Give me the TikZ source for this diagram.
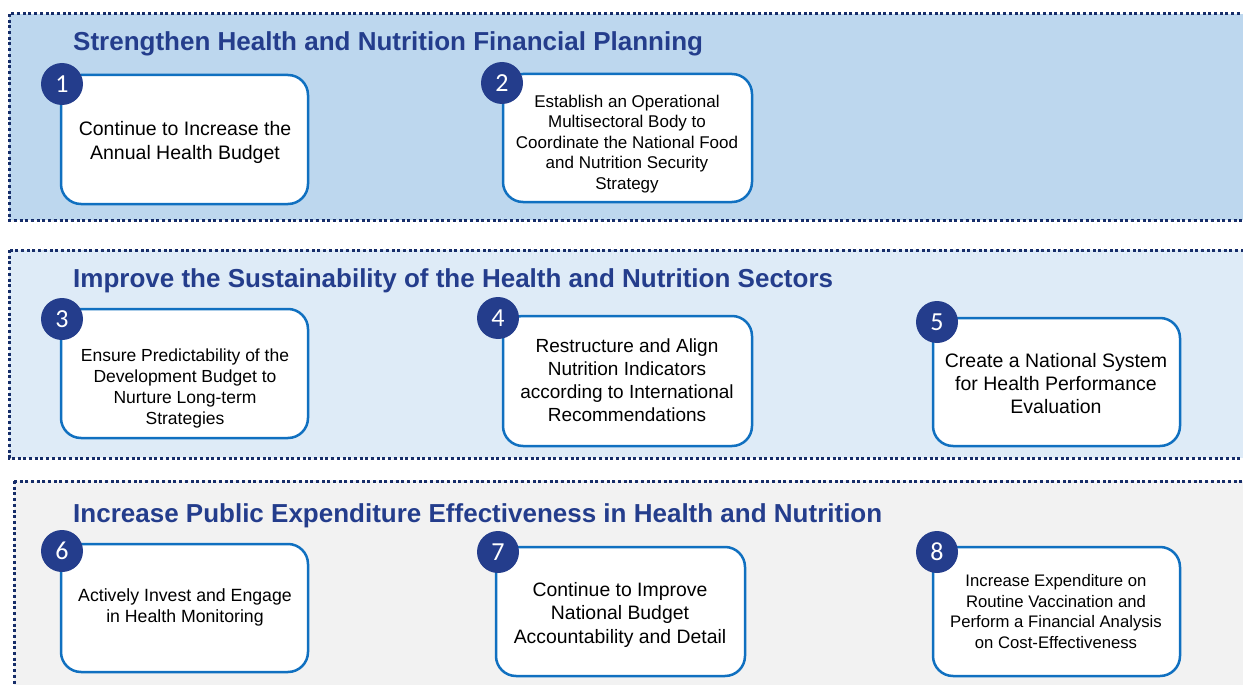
\documentclass[tikz,border=0pt]{standalone}
\usepackage{fontspec}
\setmainfont{Liberation Sans}
\newfontfamily\numfont{Carlito}
\definecolor{bandA}{RGB}{189,215,238}
\definecolor{bandB}{RGB}{222,235,247}
\definecolor{bandC}{RGB}{242,242,242}
\definecolor{edgecol}{RGB}{22,45,105}
\definecolor{navy}{RGB}{36,61,140}
\definecolor{boxblue}{RGB}{16,112,192}
\begin{document}
\begin{tikzpicture}[x=1pt,y=-1pt,
 band/.style={line width=3pt, draw=edgecol, dash pattern=on 3pt off 2.7pt},
 card/.style={draw=boxblue, line width=2.5pt, fill=white, rounded corners=20pt, inner sep=0pt},
 num/.style={circle, fill=navy, text=white, minimum size=42pt, inner sep=0pt, font=\numfont\fontsize{26}{26}\selectfont},
 titletext/.style={anchor=base west, text=navy, font=\bfseries\fontsize{26}{30}\selectfont, inner sep=0pt},
 txt/.style={align=center, inner sep=0pt, text=black}
]
\clip (0,0) rectangle (1243,685);
\fill[white] (0,0) rectangle (1243,685);
% bands
\draw[band, fill=bandA] (9,14) rectangle (1262,220);
\draw[band, fill=bandB] (9,250) rectangle (1262,458);
\draw[band, fill=bandC] (14,481) rectangle (1262,705);
% titles
\node[titletext] (t1) at (73,51) {Strengthen Health and Nutrition Financial Planning};
\node[titletext] (t2) at (73,287) {Improve the Sustainability of the Health and Nutrition Sectors};
\node[titletext] (t3) at (73,522) {Increase Public Expenditure Effectiveness in Health and Nutrition};
% cards
\node[card, minimum width=247pt, minimum height=129pt] (b1) at (184.5,139.5) {};
\node[card, minimum width=249pt, minimum height=128pt] (b2) at (627.5,138) {};
\node[card, minimum width=247pt, minimum height=129pt] (b3) at (184.5,373.5) {};
\node[card, minimum width=249pt, minimum height=130pt] (b4) at (627.5,381) {};
\node[card, minimum width=247pt, minimum height=128pt] (b5) at (1056.5,382) {};
\node[card, minimum width=247pt, minimum height=128pt] (b6) at (184.5,608) {};
\node[card, minimum width=249pt, minimum height=129pt] (b7) at (620.5,611.5) {};
\node[card, minimum width=247pt, minimum height=129pt] (b8) at (1056.5,611.5) {};
% texts
\node[txt, font=\fontsize{19.5}{24}\selectfont] (x1) at (185,142) {Continue to Increase the\\Annual Health Budget};
\node[txt, font=\fontsize{17}{20.5}\selectfont] (x2) at (627,144) {Establish an Operational\\Multisectoral Body to\\Coordinate the National Food\\and Nutrition Security\\Strategy};
\node[txt, font=\fontsize{17.5}{21}\selectfont] (x3) at (185,388) {Ensure Predictability of the\\Development Budget to\\Nurture Long-term\\Strategies};
\node[txt, font=\fontsize{19}{23}\selectfont] (x4) at (627,380.5) {Restructure and Align\\Nutrition Indicators\\according to International\\Recommendations};
\node[txt, font=\fontsize{19.5}{23}\selectfont] (x5) at (1056,384) {Create a National System\\for Health Performance\\Evaluation};
\node[txt, font=\fontsize{17.7}{21}\selectfont] (x6) at (185,607.5) {Actively Invest and Engage\\in Health Monitoring};
\node[txt, font=\fontsize{19.4}{23.5}\selectfont] (x7) at (620,614.5) {Continue to Improve\\National Budget\\Accountability and Detail};
\node[txt, font=\fontsize{16.7}{20.5}\selectfont] (x8) at (1056,611.5) {Increase Expenditure on\\Routine Vaccination and\\Perform a Financial Analysis\\on Cost-Effectiveness};
% number badges
\node[num] (n1) at (62,84) {1};
\node[num] (n2) at (502,83) {2};
\node[num] (n3) at (62,319) {3};
\node[num] (n4) at (498,318) {4};
\node[num] (n5) at (937,322) {5};
\node[num] (n6) at (62,551) {6};
\node[num] (n7) at (498,552) {7};
\node[num] (n8) at (937,552) {8};
\end{tikzpicture}
\end{document}
